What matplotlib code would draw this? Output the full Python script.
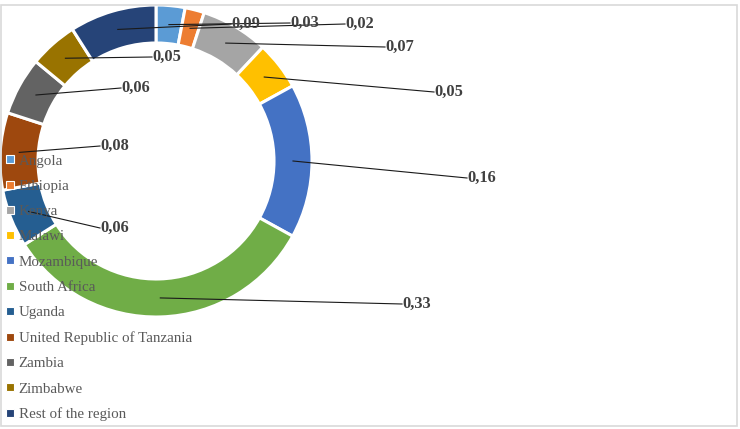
import matplotlib
matplotlib.use("Agg")
import matplotlib.pyplot as plt
from matplotlib.lines import Line2D
from matplotlib.patches import Rectangle
import numpy as np

categories = ["Angola", "Ethiopia", "Kenya", "Malawi", "Mozambique", "South Africa",
              "Uganda", "United Republic of Tanzania", "Zambia", "Zimbabwe", "Rest of the region"]
values = [0.03, 0.02, 0.07, 0.05, 0.16, 0.33, 0.06, 0.08, 0.06, 0.05, 0.09]
labels = ["0,03", "0,02", "0,07", "0,05", "0,16", "0,33", "0,06", "0,08", "0,06", "0,05", "0,09"]
colors = ["#5B9BD5", "#ED7D31", "#A5A5A5", "#FFC000", "#4472C4", "#70AD47",
          "#255E91", "#9E480E", "#636363", "#997300", "#264478"]

# label anchor positions (pixels, left-center of text)
label_pos = [(290, 23), (345, 24), (385, 47), (434, 92), (467, 178), (402, 304),
             (100, 228), (100, 146), (121, 88), (152, 57), (231, 24)]

W, H = 740, 429
fig = plt.figure(figsize=(W / 100, H / 100), dpi=100)
ax = fig.add_axes([0, 0, 1, 1])

cx, cy, R, ring = 156, H - 161, 156, 38
wedges, _ = ax.pie(values, colors=colors, startangle=90, counterclock=False,
                   center=(cx, cy), radius=R, frame=True,
                   wedgeprops=dict(width=ring, edgecolor="white", linewidth=2.2))
ax.set_xlim(0, W)
ax.set_ylim(0, H)
ax.axis("off")

serif = ["Liberation Serif", "DejaVu Serif"]
for w, lab, (lx, ly) in zip(wedges, labels, label_pos):
    ang = np.deg2rad((w.theta1 + w.theta2) / 2)
    rm = R - ring / 2
    sx, sy = cx + rm * np.cos(ang), cy + rm * np.sin(ang)
    ax.plot([sx, lx], [sy, H - ly], color="#1a1a1a", lw=0.8, zorder=3)
    ax.text(lx, H - ly, lab, ha="left", va="center", fontsize=11.8, fontweight="bold",
            family=serif, color="#404040", zorder=4)

handles = [Line2D([], [], marker="s", linestyle="none", markersize=5.5,
                  markerfacecolor=c, markeredgecolor="white", markeredgewidth=0.8)
           for c in colors]
leg = ax.legend(handles, categories, loc="upper left", bbox_to_anchor=(0, (H - 148) / H),
                bbox_transform=ax.transAxes, frameon=False, prop={"family": serif, "size": 10.8},
                labelcolor="#595959", handlelength=0.55, handletextpad=0.3,
                labelspacing=0.787, borderaxespad=0.2, borderpad=0.2)

fig.patches.append(Rectangle((0.5, 3.5), 736, 421, transform=None, fill=False,
                             edgecolor="#d9d9d9", lw=1.2))
fig.savefig("out.png", dpi=100)
